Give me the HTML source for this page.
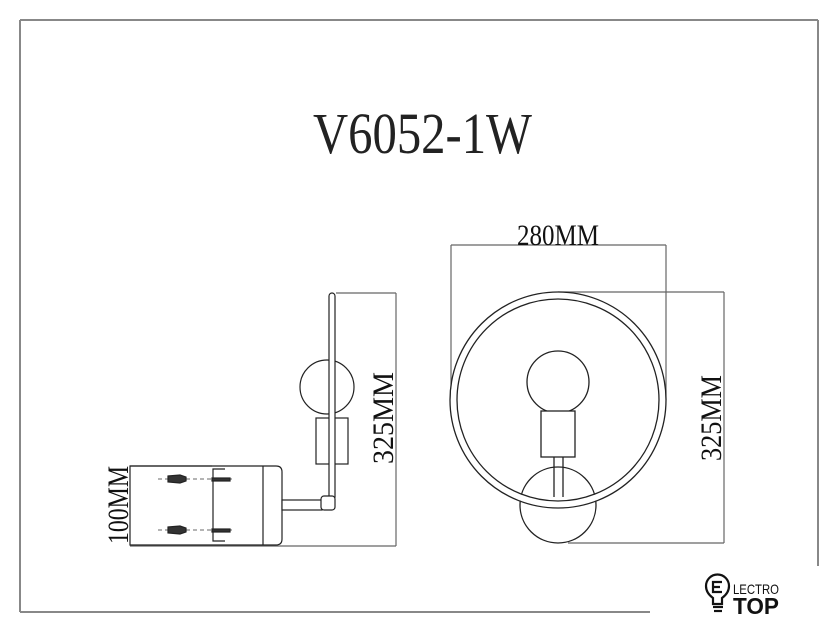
<!DOCTYPE html>
<html><head><meta charset="utf-8"><style>
html,body{margin:0;padding:0;background:#fff;}
svg{display:block;}
</style></head><body>
<svg width="838" height="640" viewBox="0 0 838 640" xmlns="http://www.w3.org/2000/svg">
<g stroke="#888" stroke-width="2" fill="none">
<line x1="20" y1="20" x2="818" y2="20"/>
<line x1="20" y1="20" x2="20" y2="612"/>
<line x1="818" y1="20" x2="818" y2="566"/>
<line x1="20" y1="612" x2="650" y2="612"/>
</g>
<text x="313" y="153" font-family="Liberation Serif, serif" font-size="58" textLength="219" lengthAdjust="spacingAndGlyphs" fill="#222">V6052-1W</text>

<!-- side view -->
<g stroke="#222" stroke-width="1.2" fill="none">
<line x1="336" y1="293" x2="396" y2="293" stroke="#666"/>
<line x1="396" y1="293" x2="396" y2="546" stroke="#666"/>
<line x1="130" y1="546" x2="396" y2="546" stroke="#666"/>
<line x1="130" y1="466" x2="212" y2="466" stroke="#666"/>
<circle cx="327" cy="387" r="27" fill="#fff"/>
<rect x="316" y="418" width="32" height="46" fill="#fff"/>
<rect x="329" y="293" width="6" height="207" rx="3" fill="#fff"/>
<path d="M130 466 H276 Q282 466 282 472 V539 Q282 545 276 545 H130 Z"/>
<line x1="263" y1="466" x2="263" y2="545"/>
<rect x="282" y="500" width="40" height="10" fill="#fff"/>
<rect x="321" y="496" width="14" height="14" rx="3" fill="#fff"/>
<path d="M225 469 H213 V541 H225"/>
<g stroke="#888" stroke-dasharray="4 3"><line x1="158" y1="479" x2="232" y2="479"/><line x1="158" y1="530" x2="232" y2="530"/></g>
<g fill="#333"><path d="M168 476 L180 475 L186 477 V481 L180 483 L168 482 Z"/><path d="M168 527 L180 526 L186 528 V532 L180 534 L168 533 Z"/>
<rect x="212" y="478" width="18" height="3"/><rect x="212" y="529" width="18" height="3"/></g>
</g>
<text transform="translate(393,418) rotate(-90)" text-anchor="middle" font-family="Liberation Serif, serif" font-size="30" fill="#111" textLength="92" lengthAdjust="spacingAndGlyphs">325MM</text>
<text transform="translate(128,505) rotate(-90)" text-anchor="middle" font-family="Liberation Serif, serif" font-size="30" fill="#111" textLength="78" lengthAdjust="spacingAndGlyphs">100MM</text>

<!-- front view -->
<g stroke="#666" stroke-width="1.2" fill="none">
<line x1="451" y1="245" x2="666" y2="245"/>
<line x1="451" y1="245" x2="451" y2="400"/>
<line x1="666" y1="245" x2="666" y2="400"/>
<line x1="558" y1="292" x2="724" y2="292"/>
<line x1="724" y1="292" x2="724" y2="543"/>
<line x1="568" y1="543" x2="724" y2="543"/>
</g>
<text x="558" y="245" text-anchor="middle" font-family="Liberation Serif, serif" font-size="30" fill="#111" textLength="82" lengthAdjust="spacingAndGlyphs">280MM</text>
<text transform="translate(721,418) rotate(-90)" text-anchor="middle" font-family="Liberation Serif, serif" font-size="30" fill="#111" textLength="86" lengthAdjust="spacingAndGlyphs">325MM</text>
<g stroke="#222" stroke-width="1.3" fill="none">
<circle cx="558" cy="505" r="38" fill="#fff"/>
<circle cx="558" cy="400" r="104.5" stroke="#fff" stroke-width="6"/>
<circle cx="558" cy="400" r="108"/>
<circle cx="558" cy="400" r="101"/>
<line x1="554" y1="457" x2="554" y2="497"/>
<line x1="563" y1="457" x2="563" y2="497"/>
<circle cx="558" cy="382" r="31" fill="#fff"/>
<rect x="541" y="411" width="34" height="46" fill="#fff"/>
</g>

<!-- logo -->
<g stroke="#111" stroke-width="2.2" fill="none">
<path d="M713 604 V598 Q706 593 706 586 A11.5 11.5 0 1 1 729 586 Q729 593 722 598 V604 Z"/>
<path d="M722 582 H713 V592 H722 M713 587 H720"/>
<line x1="713" y1="607" x2="723" y2="607"/>
<line x1="714" y1="611" x2="722" y2="611"/>
</g>
<text x="733" y="594" font-family="Liberation Sans, sans-serif" font-size="14" fill="#111" textLength="46" lengthAdjust="spacingAndGlyphs">LECTRO</text>
<text x="733" y="614" font-family="Liberation Sans, sans-serif" font-size="23" font-weight="bold" fill="#111" textLength="46" lengthAdjust="spacingAndGlyphs">TOP</text>
</svg>
</body></html>
